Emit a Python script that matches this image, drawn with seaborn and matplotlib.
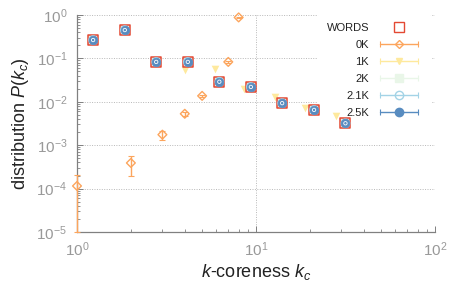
import numpy as np
import pandas as pd
import matplotlib
matplotlib.use("Agg")
import matplotlib.pyplot as plt
import seaborn as sns
from matplotlib.lines import Line2D
from matplotlib.legend_handler import HandlerLine2D, HandlerTuple
from matplotlib.ticker import LogLocator, LogFormatterMathtext, NullFormatter

# data
words_k = [1.23, 1.85, 2.77, 4.16, 6.24, 9.36, 14.0, 21.1, 31.6]
words_p = [0.265, 0.45, 0.083, 0.083, 0.029, 0.022, 0.0093, 0.0065, 0.0032]

k0_k = [1, 2, 3, 4, 5, 7, 8]
k0_p = [1.15e-4, 3.9e-4, 1.75e-3, 5.3e-3, 0.0137, 0.083, 0.88]
k0_lo = [1.05e-4, 1.95e-4, 0.4e-3, 0.5e-3, 0.001, 0.004, 0.04]
k0_hi = [0.9e-4, 1.7e-4, 0.4e-3, 0.5e-3, 0.001, 0.004, 0.04]

k1_k = [4.0, 5.9, 8.6, 12.7, 18.9, 28.1]
k1_p = [0.054, 0.057, 0.0197, 0.013, 0.0072, 0.0047]

# 2K, 2.1K and 2.5K sit on top of the WORDS points
k2_k = words_k
k2_p = words_p
k21_k = words_k
k21_p = words_p
k25_k = words_k
k25_p = words_p

labels = ['WORDS', '0K', '1K', '2K', '2.1K', '2.5K']

sns.set_style("white")
plt.rcParams['font.family'] = ['Liberation Sans', 'DejaVu Sans']
plt.rcParams['mathtext.fontset'] = 'custom'
plt.rcParams['mathtext.rm'] = 'Liberation Sans'
plt.rcParams['mathtext.it'] = 'Liberation Sans:italic'

pal = sns.color_palette("RdYlBu", 6).as_hex()
c_words, c0, c1, c2, c21, c25 = pal

fig = plt.figure(figsize=(4.49, 2.88), dpi=100)
ax = fig.add_axes([77/449, 1-232/288, 358/449, 217/288])

# 0K with error bars
ax.errorbar(k0_k, k0_p, yerr=[k0_lo, k0_hi], fmt='none', ecolor=c0, elinewidth=1.0,
            capsize=2, capthick=0.8, zorder=3, clip_on=False)
sns.scatterplot(x=k0_k, y=k0_p, ax=ax, marker='D', s=20, facecolor='none',
                edgecolor=c0, linewidth=1.0, zorder=3.1, clip_on=False)
sns.scatterplot(x=k1_k, y=k1_p, ax=ax, marker='v', s=30, color=c1,
                edgecolor=c1, linewidth=0, zorder=3.2)
sns.scatterplot(x=words_k, y=words_p, ax=ax, marker='s', s=58, facecolor='#f6d0cc',
                edgecolor=c_words, linewidth=1.1, zorder=4)
sns.scatterplot(x=k2_k, y=k2_p, ax=ax, marker='s', s=30, color=c2, linewidth=0, zorder=5)
sns.scatterplot(x=k21_k, y=k21_p, ax=ax, marker='o', s=36, facecolor='none',
                edgecolor=c21, linewidth=1.0, zorder=6)
sns.scatterplot(x=k25_k, y=k25_p, ax=ax, marker='o', s=38, color=c25,
                edgecolor=c25, linewidth=0.5, zorder=7)
sns.scatterplot(x=k25_k, y=k25_p, ax=ax, marker='o', s=6, facecolor='none',
                edgecolor='white', linewidth=0.6, zorder=8)

ax.set_xscale('log')
ax.set_yscale('log')
ax.set_xlim(1, 100)
ax.set_ylim(1e-5, 1)

ax.xaxis.set_major_locator(LogLocator(base=10, numticks=10))
ax.yaxis.set_major_locator(LogLocator(base=10, numticks=10))
ax.xaxis.set_major_formatter(LogFormatterMathtext())
ax.yaxis.set_major_formatter(LogFormatterMathtext())
ax.xaxis.set_minor_locator(LogLocator(base=10, subs=np.arange(2, 10), numticks=20))
ax.yaxis.set_minor_locator(LogLocator(base=10, subs=np.arange(2, 10), numticks=20))
ax.xaxis.set_minor_formatter(NullFormatter())
ax.yaxis.set_minor_formatter(NullFormatter())

ax.grid(True, which='major', color='#b8b8b8', linestyle=(0, (1, 1.5)), linewidth=0.7)
ax.grid(False, which='minor')
for side in ['top', 'right']:
    ax.spines[side].set_visible(False)
for side in ['left', 'bottom']:
    ax.spines[side].set_color('#808080')
    ax.spines[side].set_linewidth(0.9)

ax.tick_params(which='both', direction='in', colors='#808080', labelcolor='#999999',
               bottom=True, left=True, top=False, right=False)
ax.tick_params(which='major', length=4, width=0.7, labelsize=11)
ax.tick_params(which='minor', length=2, width=0.6)
ax.tick_params(axis='y', which='major', pad=7)
ax.tick_params(axis='x', which='major', pad=6)

ax.set_xlabel(r'$k$-coreness $k_c$', fontsize=13, color='#222222', labelpad=2)
ax.set_ylabel(r'distribution $P(k_c)$', fontsize=13, color='#222222', labelpad=4)

# legend with horizontal error bar style samples
def make_handle(color, marker, mfc, ms, line=True):
    bar = Line2D([], [], color=color, linewidth=1.0, marker='|',
                 markersize=4, markeredgewidth=0.8)
    mk = Line2D([], [], color=color, linestyle='none', marker=marker, markersize=ms,
                markerfacecolor=mfc, markeredgecolor=color, markeredgewidth=1.0)
    return bar, mk

handles = []
hmap = {}
specs = [
    (c_words, 's', 'white', 6.5, False),
    (c0, 'D', 'none', 4.5, True),
    (c1, 'v', c1, 5, True),
    (c2, 's', c2, 6, True),
    (c21, 'o', 'none', 6, True),
    (c25, 'o', c25, 6, True),
]
for color, marker, mfc, ms, line in specs:
    bar, mk = make_handle(color, marker, mfc, ms, line)
    hmap[mk] = HandlerLine2D(numpoints=1)
    if line:
        hmap[bar] = HandlerLine2D(numpoints=2)
        handles.append((bar, mk))
    else:
        handles.append((mk,))
hmap[tuple] = HandlerTuple(ndivide=1)

leg = ax.legend(handles, labels, handler_map=hmap, loc='upper right',
                bbox_to_anchor=(0.985, 1.0), borderaxespad=0, fontsize=8,
                markerfirst=False, handlelength=4.0, handletextpad=0.7,
                labelspacing=0.62, borderpad=0.75, frameon=True, fancybox=False,
                framealpha=1.0, edgecolor='white', facecolor='white')
leg.set_zorder(2.5)
for t in leg.get_texts():
    t.set_color('#222222')

fig.savefig('out.png', dpi=100)
